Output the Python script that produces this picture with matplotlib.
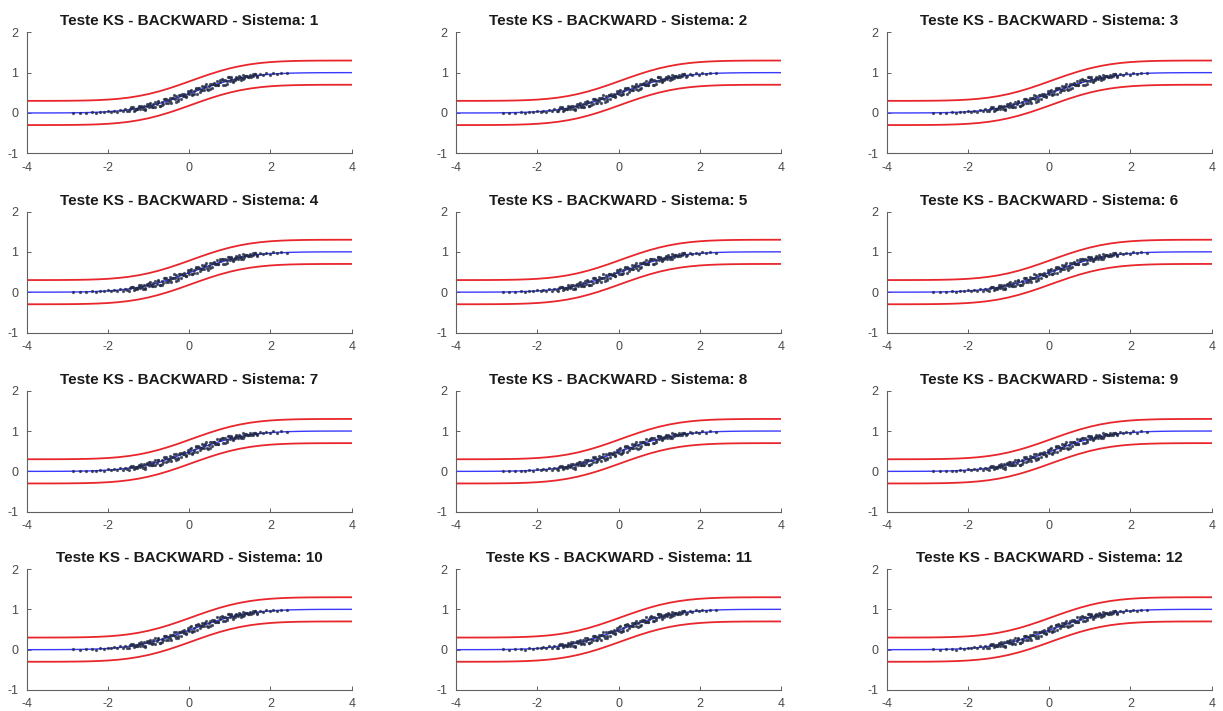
import numpy as np
import matplotlib
matplotlib.use("Agg")
import matplotlib.pyplot as plt

plt.rcParams['font.family'] = ['Liberation Sans', 'DejaVu Sans']

systems = list(range(1, 13))
title_fmt = "Teste KS - BACKWARD - Sistema: {}"

# Theoretical CDF (blue)
cdf_x = [-4, -3.75, -3.5, -3.25, -3, -2.75, -2.5, -2.25, -2, -1.75, -1.5, -1.25,
         -1, -0.75, -0.5, -0.25, 0, 0.25, 0.5, 0.75, 1, 1.25, 1.5, 1.75, 2,
         2.25, 2.5, 2.75, 3, 3.25, 3.5, 3.75, 4]
cdf_y = [0.0001, 0.0003, 0.0006, 0.0013, 0.0028, 0.0055, 0.0102, 0.0183,
         0.0312, 0.0509, 0.0794, 0.1186, 0.1698, 0.2336, 0.3085, 0.3925,
         0.4819, 0.5722, 0.6587, 0.7377, 0.8062, 0.8623, 0.9063, 0.9388,
         0.9619, 0.9772, 0.9870, 0.9930, 0.9963, 0.9982, 0.9991, 0.9996,
         0.9998]
ks_d = 0.3  # KS band half-width (red lines)

# Empirical points (black cloud)
pts_x = [-2.85, -2.70, -2.55, -2.40, -2.30, -2.20, -2.10, -2.00, -1.92, -1.85,
         -1.78, -1.70, -1.64, -1.58, -1.52, -1.46,
         -1.40, -1.36, -1.32, -1.28, -1.24, -1.20, -1.16, -1.12, -1.08, -1.04,
         -1.00, -0.96, -0.92, -0.88, -0.84, -0.80, -0.76, -0.72, -0.68, -0.64,
         -0.60, -0.56, -0.52, -0.48, -0.44, -0.40, -0.36, -0.32, -0.28, -0.24,
         -0.20, -0.16, -0.12, -0.08, -0.04, 0.00, 0.04, 0.08, 0.12, 0.16,
         0.20, 0.24, 0.28, 0.32, 0.36, 0.40, 0.44, 0.48, 0.52, 0.56,
         0.60, 0.64, 0.68, 0.72, 0.76, 0.80, 0.84, 0.88, 0.92, 0.96,
         1.00, 1.04, 1.08, 1.12, 1.16, 1.20, 1.24, 1.28, 1.32, 1.36, 1.40,
         1.45, 1.50, 1.56, 1.62, 1.68, 1.75, 1.82, 1.90, 1.98, 2.06, 2.15,
         2.25, 2.40,
         -1.48, -1.38, -1.28, -1.18, -1.08, -0.98, -0.88, -0.78, -0.68, -0.58,
         -0.48, -0.38, -0.28, -0.18, -0.08, 0.02, 0.12, 0.22, 0.32, 0.42,
         0.52, 0.62, 0.72, 0.82, 0.92, 1.02, 1.12, 1.22, 1.32, 1.42, 1.52, 1.62,
         -1.43, -1.33, -1.23, -1.13, -1.03, -0.93, -0.83, -0.73, -0.63, -0.53,
         -0.43, -0.33, -0.23, -0.13, -0.03, 0.07, 0.17, 0.27, 0.37, 0.47,
         0.57, 0.67, 0.77, 0.87, 0.97, 1.07, 1.17, 1.27, 1.37, 1.47, 1.57, 1.67]
pts_y = [0.01, 0.00, 0.01, 0.02, 0.00, 0.03, 0.02, 0.05, 0.03, 0.06,
         0.03, 0.08, 0.04, 0.09, 0.05, 0.11,
         0.12, 0.06, 0.11, 0.09, 0.17, 0.10, 0.14, 0.18, 0.10, 0.18,
         0.16, 0.24, 0.15, 0.23, 0.15, 0.21, 0.27, 0.17, 0.27, 0.23,
         0.34, 0.24, 0.31, 0.37, 0.25, 0.36, 0.34, 0.43, 0.34, 0.44,
         0.35, 0.43, 0.48, 0.39, 0.49, 0.46, 0.58, 0.46, 0.54, 0.60,
         0.48, 0.61, 0.58, 0.67, 0.58, 0.67, 0.59, 0.66, 0.72, 0.62,
         0.72, 0.69, 0.80, 0.69, 0.77, 0.83, 0.70, 0.82, 0.79, 0.88,
         0.80, 0.85, 0.80, 0.85, 0.89, 0.83, 0.88, 0.86, 0.94, 0.87, 0.92,
         0.89, 0.94, 0.91, 0.96, 0.92, 0.97, 0.94, 0.98, 0.95, 0.99, 0.96,
         0.99, 0.98,
         0.04, 0.14, 0.10, 0.18, 0.07, 0.22, 0.16, 0.29, 0.19, 0.35,
         0.30, 0.44, 0.30, 0.46, 0.41, 0.55, 0.47, 0.63, 0.58, 0.72,
         0.59, 0.74, 0.69, 0.82, 0.73, 0.88, 0.82, 0.91, 0.83, 0.91, 0.89, 0.96,
         0.14, 0.08, 0.14, 0.09, 0.21, 0.17, 0.28, 0.17, 0.35, 0.25,
         0.36, 0.28, 0.45, 0.42, 0.54, 0.44, 0.62, 0.53, 0.65, 0.56,
         0.73, 0.69, 0.81, 0.70, 0.88, 0.77, 0.87, 0.82, 0.92, 0.89, 0.96, 0.89]

x_ticks = [-4, -2, 0, 2, 4]
y_ticks = [-1, 0, 1, 2]

W, H = 1223, 711
fig = plt.figure(figsize=(W / 100, H / 100), dpi=100)
col_left = [26.7, 456.0, 886.7]
row_top = [32.3, 211.5, 390.7, 569.0]
ax_w, ax_h = 325.0, 121.0

axis_col = '#606060'
cdf_y_arr = np.array(cdf_y)
for i, s in enumerate(systems):
    r, c = divmod(i, 3)
    left = col_left[c] / W
    bottom = (H - row_top[r] - ax_h) / H
    ax = fig.add_axes([left, bottom, ax_w / W, ax_h / H])
    ax.plot(cdf_x, cdf_y_arr + ks_d, color='#e8262c', lw=1.3)
    ax.plot(cdf_x, cdf_y_arr - ks_d, color='#e8262c', lw=1.3)
    ax.plot(cdf_x, cdf_y, color='#3a3aff', lw=1.0)
    ax.plot(pts_x, pts_y, linestyle='none', marker='.', markersize=2.7,
            color='#222a44', alpha=0.7)
    ax.set_xlim(-4, 4)
    ax.set_ylim(-1, 2)
    ax.set_xticks(x_ticks)
    ax.set_yticks(y_ticks)
    ax.set_xticklabels([str(t) for t in x_ticks])
    ax.set_yticklabels([str(t) for t in y_ticks])
    for sp in ['top', 'right']:
        ax.spines[sp].set_visible(False)
    for sp in ['left', 'bottom']:
        ax.spines[sp].set_color(axis_col)
        ax.spines[sp].set_linewidth(0.8)
    ax.tick_params(direction='in', length=3, width=0.7, color=axis_col,
                   labelcolor='#4a4a4a', labelsize=9)
    ax.tick_params(axis='x', pad=6)
    ax.tick_params(axis='y', pad=6)
    ax.set_title(title_fmt.format(s), fontsize=11, fontweight='bold',
                 color='#1a1a1a', pad=5)

fig.savefig('out.png', dpi=100)
